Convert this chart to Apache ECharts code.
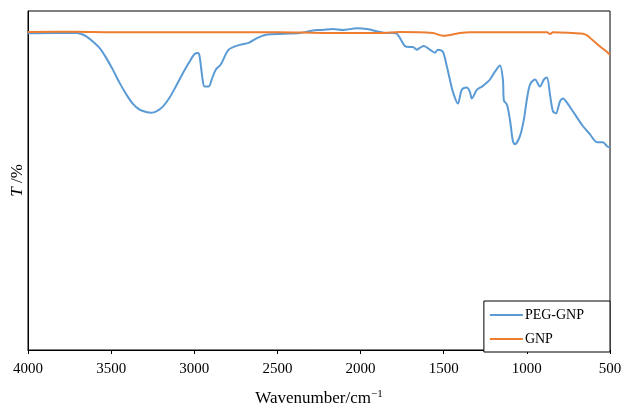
<!DOCTYPE html>
<html>
<head>
<meta charset="utf-8">
<script src="https://cdn.jsdelivr.net/npm/echarts@6/dist/echarts.min.js"></script>
<style>
  html, body { margin: 0; padding: 0; background: #fff; }
  #chart { width: 627px; height: 412px; }
</style>
</head>
<body>
<div id="chart"></div>
<script>
// FTIR spectra: wavenumber (cm^-1) and transmittance (%)
const pegWavenumber = [4000, 3850, 3710, 3680, 3650, 3610, 3570, 3529, 3490, 3449, 3409, 3369, 3329, 3289, 3258, 3228, 3189, 3149, 3108, 3068, 3028, 2998, 2978, 2968, 2950, 2938, 2914, 2895, 2871, 2841, 2793, 2727, 2673, 2631, 2570, 2456, 2366, 2263, 2245, 2167, 2107, 2023, 1962, 1884, 1842, 1806, 1782, 1764, 1734, 1704, 1686, 1662, 1644, 1619, 1583, 1553, 1535, 1505, 1481, 1463, 1445, 1415, 1391, 1361, 1343, 1331, 1300, 1270, 1240, 1222, 1192, 1162, 1144, 1138, 1120, 1102, 1084, 1072, 1042, 1018, 1000, 981, 951, 921, 897, 879, 861, 843, 825, 801, 783, 759, 711, 662, 620, 578, 542, 518, 500];
const pegTransmittance = [93.4, 93.5, 93.5, 93.2, 92.5, 91.0, 89.1, 86.1, 82.7, 78.8, 75.4, 72.6, 70.9, 70.2, 70.0, 70.4, 71.8, 74.4, 78.0, 81.7, 85.1, 87.3, 87.6, 86.6, 79.8, 77.7, 77.7, 79.8, 82.7, 84.2, 88.6, 90.0, 90.6, 91.8, 93.0, 93.3, 93.5, 94.4, 94.4, 94.7, 94.4, 94.9, 94.7, 93.8, 93.5, 93.5, 93.3, 92.1, 89.7, 89.4, 89.4, 88.6, 89.1, 89.7, 88.6, 87.7, 88.6, 88.0, 83.6, 79.8, 76.2, 72.7, 76.8, 77.4, 76.2, 74.2, 76.8, 77.7, 78.9, 79.8, 82.1, 83.9, 79.8, 73.6, 72.4, 68.0, 61.6, 60.7, 63.0, 68.0, 73.9, 78.3, 79.8, 77.7, 79.8, 80.4, 75.4, 70.4, 69.8, 73.3, 74.2, 73.0, 69.5, 66.0, 63.6, 61.3, 61.3, 60.1, 59.8];

const gnpWavenumber = [4000, 3708, 3500, 3000, 2500, 2190, 2000, 1880, 1764, 1565, 1505, 1403, 1343, 1100, 879, 861, 843, 723, 662, 638, 600, 560, 530, 500];
const gnpTransmittance = [93.8, 93.9, 93.75, 93.75, 93.75, 93.5, 93.5, 93.5, 93.8, 93.5, 92.7, 93.5, 93.75, 93.75, 93.75, 93.2, 93.75, 93.5, 93.3, 92.8, 91.2, 89.5, 88.4, 87.1];

const xTickMin = 500, xTickMax = 4000, xTickStep = 500;

const pair = (xs, ys) => xs.map((x, i) => [x, ys[i]]);
const serif = 'Liberation Serif';

const chart = echarts.init(document.getElementById('chart'), null, { renderer: 'canvas' });
chart.setOption({
  animation: false,
  backgroundColor: '#fff',
  grid: {
    left: 28, right: 17, top: 11, bottom: 60,
    show: true, borderColor: '#000', borderWidth: 1, backgroundColor: 'transparent'
  },
  xAxis: {
    type: 'value',
    inverse: true,
    min: xTickMin, max: xTickMax, interval: xTickStep,
    axisLine: { show: true, lineStyle: { color: '#000', width: 1 } },
    axisTick: { show: true, inside: false, length: 4, lineStyle: { color: '#000' } },
    axisLabel: { color: '#000', fontFamily: serif, fontSize: 15, margin: 12, formatter: v => String(v) },
    splitLine: { show: false },
    name: 'Wavenumber/cm{sup|−1}',
    nameLocation: 'middle',
    nameGap: 39,
    nameTextStyle: {
      color: '#000', fontFamily: serif, fontSize: 17,
      rich: { sup: { fontFamily: serif, fontSize: 11, verticalAlign: 'top', padding: [0, 0, 8, 0], color: '#000' } }
    }
  },
  yAxis: {
    type: 'value',
    min: 0, max: 100,
    axisLine: { show: true, lineStyle: { color: '#000', width: 1 } },
    axisTick: { show: false },
    axisLabel: { show: false },
    splitLine: { show: false },
    name: '{i|T} /%',
    nameLocation: 'middle',
    nameGap: 2,
    nameTextStyle: {
      color: '#000', fontFamily: serif, fontSize: 17,
      rich: { i: { fontFamily: serif, fontSize: 17, fontStyle: 'italic', color: '#000' } }
    }
  },
  legend: {
    orient: 'vertical',
    right: 17, bottom: 60,
    backgroundColor: '#fff',
    borderColor: '#000', borderWidth: 1,
    padding: [7, 26, 6, 6],
    itemGap: 10,
    itemWidth: 33, itemHeight: 2,
    icon: 'rect',
    textStyle: { color: '#000', fontFamily: serif, fontSize: 14, padding: [0, 0, 0, -3] },
    data: ['PEG-GNP', 'GNP']
  },
  series: [
    {
      name: 'PEG-GNP', type: 'line',
      data: pair(pegWavenumber, pegTransmittance),
      showSymbol: false, smooth: 0.3,
      lineStyle: { color: '#5B9BD5', width: 2 },
      itemStyle: { color: '#5B9BD5' },
      z: 2
    },
    {
      name: 'GNP', type: 'line',
      data: pair(gnpWavenumber, gnpTransmittance),
      showSymbol: false, smooth: 0.3,
      lineStyle: { color: '#ED7D31', width: 2 },
      itemStyle: { color: '#ED7D31' },
      z: 3
    }
  ]
});
</script>
</body>
</html>
